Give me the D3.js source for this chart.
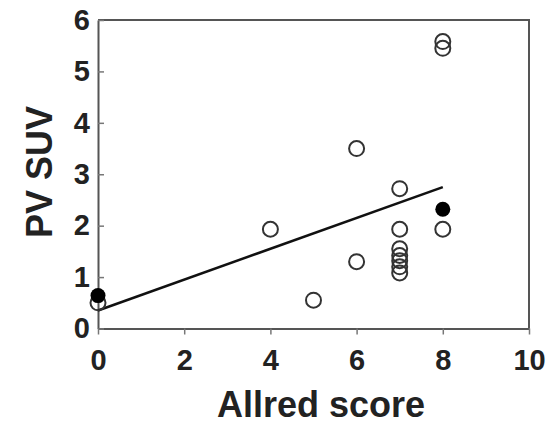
<!DOCTYPE html>
<head>
  <meta charset="utf-8">
  <style>
    body { margin:0; background:#fff; }
    text { font-family: "Liberation Sans", Arial, sans-serif; font-weight:bold; fill:#222; }
    .tick text { font-size:29px; }
    .title { font-size:36px; }
  </style>
</head>
<body>
  <script src="https://d3js.org/d3.v7.min.js"></script>
  <script>
    // DATA
    var openX = [0, 4, 5, 6, 6, 7, 7, 7, 7, 7, 7, 7, 8, 8, 8];
    var openY = [0.5, 1.93, 0.55, 3.5, 1.3, 2.72, 1.93, 1.55, 1.42, 1.32, 1.2, 1.08, 5.58, 5.45, 1.93];
    var filledX = [0, 8];
    var filledY = [0.64, 2.32];
    var fitX = [0, 8];
    var fitY = [0.35, 2.75];
    var xTicks = [0, 2, 4, 6, 8, 10];
    var yTicks = [0, 1, 2, 3, 4, 5, 6];

    var width = 557, height = 424;
    var margin = { left: 98, right: 28, top: 20, bottom: 95 };

    var svg = d3.select("body").append("svg")
      .attr("width", width)
      .attr("height", height);

    var x = d3.scaleLinear().domain([0, 10]).range([margin.left, width - margin.right]);
    var y = d3.scaleLinear().domain([0, 6]).range([height - margin.bottom - 0.5, margin.top]);

    // frame (top + right)
    svg.append("path")
      .attr("d", "M" + x(0) + "," + y(6) + "H" + x(10) + "V" + y(0))
      .attr("fill", "none")
      .attr("stroke", "#555")
      .attr("stroke-width", 2);

    // AXES
    var xAxis = svg.append("g")
      .attr("transform", "translate(0," + y(0) + ")")
      .call(d3.axisBottom(x).tickValues(xTicks).tickFormat(d3.format("d"))
        .tickSizeInner(6).tickSizeOuter(0).tickPadding(15));

    var yAxis = svg.append("g")
      .attr("transform", "translate(" + x(0) + ",0)")
      .call(d3.axisLeft(y).tickValues(yTicks).tickFormat(d3.format("d"))
        .tickSizeInner(-6).tickSizeOuter(0).tickPadding(8));

    [xAxis, yAxis].forEach(function(a) {
      a.select(".domain").attr("stroke", "#555").attr("stroke-width", 2);
      a.selectAll(".tick line").attr("stroke", "#777").attr("stroke-width", 1.5);
      a.selectAll(".tick text").attr("fill", "#222");
    });

    // regression line
    var line = d3.line().x(function(d) { return x(d[0]); }).y(function(d) { return y(d[1]); });
    svg.append("path")
      .datum(d3.zip(fitX, fitY))
      .attr("d", line)
      .attr("fill", "none")
      .attr("stroke", "#111")
      .attr("stroke-width", 2.6);

    // open circles
    svg.selectAll("circle.open")
      .data(d3.zip(openX, openY))
      .enter().append("circle")
        .attr("class", "open")
        .attr("cx", function(d) { return x(d[0]); })
        .attr("cy", function(d) { return y(d[1]); })
        .attr("r", 7.5)
        .attr("fill", "none")
        .attr("stroke", "#333")
        .attr("stroke-width", 2);

    // filled circles
    svg.selectAll("circle.filled")
      .data(d3.zip(filledX, filledY))
      .enter().append("circle")
        .attr("class", "filled")
        .attr("cx", function(d) { return x(d[0]); })
        .attr("cy", function(d) { return y(d[1]); })
        .attr("r", 7.5)
        .attr("fill", "#000");

    // TITLES
    svg.append("text")
      .attr("class", "title")
      .attr("x", 321)
      .attr("y", 417)
      .attr("text-anchor", "middle")
      .text("Allred score");

    svg.append("text")
      .attr("class", "title")
      .attr("transform", "translate(52,172) rotate(-90)")
      .attr("text-anchor", "middle")
      .text("PV SUV");
  </script>
</body>
